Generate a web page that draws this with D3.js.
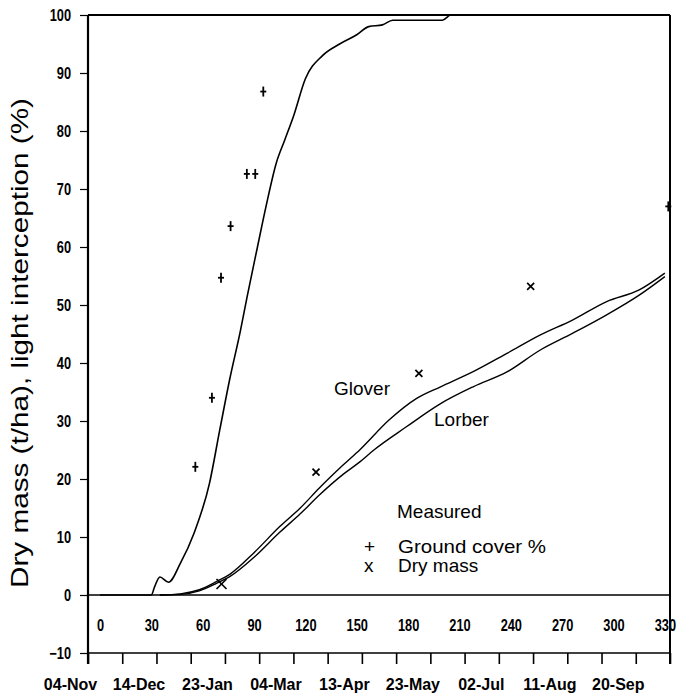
<!DOCTYPE html>
<html><head><meta charset="utf-8">
<script src="https://cdn.jsdelivr.net/npm/d3@7"></script>
<style>
body{margin:0;background:#fff;}
svg{display:block;}
.tk text{font-family:"Liberation Sans",Arial,sans-serif;font-weight:bold;font-size:16px;fill:#000;}
.lbl{font-family:"Liberation Sans",Arial,sans-serif;font-size:19px;fill:#000;}
</style></head><body>
<svg id="chart" width="680" height="694"></svg>
<script>
// ---- data ----
const yTicks = [-10, 0, 10, 20, 30, 40, 50, 60, 70, 80, 90, 100];
const dayTicks = [0, 30, 60, 90, 120, 150, 180, 210, 240, 270, 300, 330];
const dateLabels = ["1984-11-04", "1984-12-14", "1985-01-23", "1985-03-04", "1985-04-13",
                    "1985-05-23", "1985-07-02", "1985-08-11", "1985-09-20"];
const dateLabelFirstDay = -17.5;     // day number of 04-Nov on the day axis
const minorTickDays = [-7, 13, 33, 53, 73, 93, 113, 133, 153, 173, 193, 213, 233, 253, 273, 293, 313, 333];

// light interception (%)
const interceptionDays = [0, 30, 32, 35, 40, 47, 55, 64, 70, 76, 82, 86, 92, 97, 103, 108, 113, 120, 130, 140, 150, 157, 165, 171, 200, 205, 330];
const interceptionValues = [0, 0, 1.5, 3.1, 2.2, 5.5, 10.7, 19.3, 28.5, 37.5, 45.5, 51.5, 60, 67, 74.5, 78.5, 82.5, 89, 93, 95, 96.6, 98, 98.3, 99.1, 99.1, 100, 100];

// simulated dry mass (t/ha)
const gloverDays = [35, 47, 58, 68, 76, 90, 105, 117, 128, 142, 152, 169, 185, 199, 218, 238, 257, 276, 296, 315, 330];
const gloverValues = [0, 0.2, 0.9, 2.3, 3.6, 7.3, 11.8, 15, 18.4, 22.4, 25.1, 30.2, 33.9, 35.9, 38.5, 41.7, 44.8, 47.4, 50.6, 52.6, 55.5];
const lorberDays = [35, 47, 58, 68, 76, 90, 105, 117, 128, 142, 152, 160, 179, 199, 218, 238, 257, 276, 296, 315, 330];
const lorberValues = [0, 0.1, 0.7, 2.0, 3.2, 6.5, 10.8, 14, 17.2, 20.8, 23, 25, 29, 33, 35.9, 38.5, 42.2, 45.1, 48.3, 51.7, 54.9];

// measured
const groundCoverDays = [55.7, 65.4, 70.7, 76.3, 85.8, 90.7, 95.4, 332];
const groundCoverValues = [22.1, 34, 54.7, 63.6, 72.6, 72.6, 86.8, 67];
const dryMassDays = [71, 126.2, 186.3, 251.6];
const dryMassValues = [1.9, 21.2, 38.2, 53.2];

// ---- layout ----
const L = 88, R = 670, T = 15, B = 653;
const svg = d3.select("#chart");
const x = d3.scaleLinear().domain([-7, 333]).range([L, R]);
const y = d3.scaleLinear().domain([-10, 100]).range([B, T]);
const d0 = d3.isoParse(dateLabels[0]);
const xt = d3.scaleUtc().domain([d0, d3.utcDay.offset(d0, 340)])
  .range([x(dateLabelFirstDay), x(dateLabelFirstDay + 340)]);

// condensed look for tick labels
function narrow(g, k) {
  g.selectAll("text").each(function () {
    const t = d3.select(this);
    const tx = +t.attr("x") || 0;
    t.attr("transform", `translate(${tx},0) scale(${k},1) translate(${-tx},0)`);
  });
}

// frame
const frame = svg.append("g").attr("stroke", "#000").attr("fill", "none");
frame.append("line").attr("x1", L).attr("x2", L).attr("y1", T).attr("y2", B + 11).attr("stroke-width", 2.2);
frame.append("line").attr("x1", L).attr("x2", R).attr("y1", T).attr("y2", T).attr("stroke-width", 2);
frame.append("line").attr("x1", R).attr("x2", R).attr("y1", T).attr("y2", B + 11).attr("stroke-width", 2);
frame.append("line").attr("x1", L).attr("x2", R).attr("y1", y(0)).attr("y2", y(0)).attr("stroke-width", 1.6);
frame.append("line").attr("x1", L).attr("x2", R).attr("y1", B).attr("y2", B).attr("stroke-width", 1.6);

// left axis
const ya = svg.append("g").attr("class", "tk").attr("transform", `translate(${L},0)`)
  .call(d3.axisLeft(y).tickValues(yTicks).tickSize(8).tickPadding(9).tickFormat(d3.format("d")));
ya.select(".domain").remove();
ya.selectAll("line").attr("stroke-width", 1.2);
narrow(ya, 0.8);

// day labels inside plot
const da = svg.append("g").attr("class", "tk").attr("transform", `translate(0,${y(0)})`)
  .call(d3.axisBottom(x).tickValues(dayTicks).tickSize(0).tickPadding(25).tickFormat(d3.format("d")));
da.select(".domain").remove();
narrow(da, 0.8);

// minor ticks along the bottom
const ma = svg.append("g").attr("class", "tk").attr("transform", `translate(0,${B})`)
  .call(d3.axisBottom(x).tickValues(minorTickDays).tickSize(11).tickFormat(""));
ma.select(".domain").remove();
ma.selectAll("line").attr("stroke-width", 1.6);

// date labels
const dla = svg.append("g").attr("class", "tk").attr("transform", `translate(0,${B})`)
  .call(d3.axisBottom(xt).tickValues(dateLabels.map(d3.isoParse)).tickSize(0).tickPadding(26).tickFormat(d3.utcFormat("%d-%b")));
dla.select(".domain").remove();

// curves
const mk = (ds, vs) => ds.map((d, i) => [d, vs[i]]);
const line = d3.line().x(d => x(d[0])).y(d => y(d[1])).curve(d3.curveMonotoneX);
svg.append("path").datum(mk(interceptionDays, interceptionValues)).attr("d", line)
  .attr("fill", "none").attr("stroke", "#000").attr("stroke-width", 1.6);
svg.append("path").datum(mk(gloverDays, gloverValues)).attr("d", line)
  .attr("fill", "none").attr("stroke", "#000").attr("stroke-width", 1.4);
svg.append("path").datum(mk(lorberDays, lorberValues)).attr("d", line)
  .attr("fill", "none").attr("stroke", "#000").attr("stroke-width", 1.4);

// measured markers
const gc = svg.append("g").attr("stroke", "#000").attr("stroke-width", 1.8);
mk(groundCoverDays, groundCoverValues).forEach(p => {
  const cx = x(p[0]), cy = y(p[1]);
  gc.append("line").attr("x1", cx).attr("x2", cx).attr("y1", cy - 5).attr("y2", cy + 5);
  gc.append("line").attr("x1", cx - 3).attr("x2", cx + 3).attr("y1", cy).attr("y2", cy);
});
const dm = svg.append("g").attr("stroke", "#000").attr("stroke-width", 1.7);
mk(dryMassDays, dryMassValues).forEach((p, i) => {
  const cx = x(p[0]), cy = y(p[1]), s = i === 0 ? 5 : 3.5;
  dm.append("line").attr("x1", cx - s).attr("x2", cx + s).attr("y1", cy - s).attr("y2", cy + s);
  dm.append("line").attr("x1", cx - s).attr("x2", cx + s).attr("y1", cy + s).attr("y2", cy - s);
});

// labels
svg.append("text").attr("class", "lbl").attr("x", 334).attr("y", 395).text("Glover");
svg.append("text").attr("class", "lbl").attr("x", 434).attr("y", 426).text("Lorber");
svg.append("text").attr("class", "lbl").attr("x", 397).attr("y", 518).text("Measured");
svg.append("text").attr("class", "lbl").attr("x", 364).attr("y", 553).text("+");
svg.append("text").attr("class", "lbl").attr("x", 398).attr("y", 553).attr("textLength", 148).attr("lengthAdjust", "spacingAndGlyphs").text("Ground cover %");
svg.append("text").attr("class", "lbl").attr("x", 364).attr("y", 572).text("x");
svg.append("text").attr("class", "lbl").attr("x", 398).attr("y", 572).text("Dry mass");

// y title
svg.append("text").attr("class", "lbl").style("font-size", "24px")
  .attr("transform", "translate(28,343) rotate(-90)").attr("text-anchor", "middle")
  .attr("textLength", 490).attr("lengthAdjust", "spacingAndGlyphs")
  .text("Dry mass (t/ha), light interception (%)");
</script>
</body></html>
